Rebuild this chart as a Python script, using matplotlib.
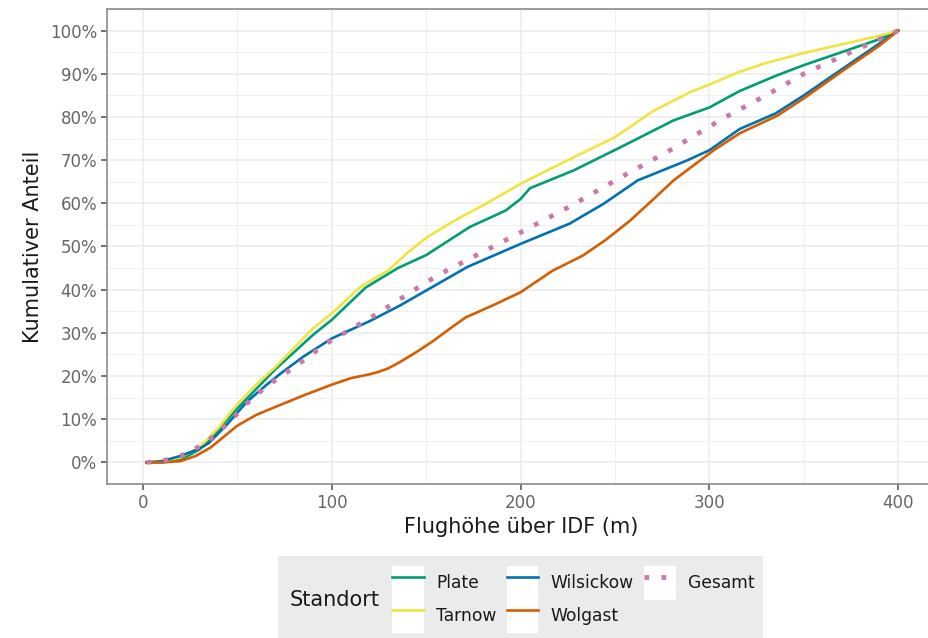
import numpy as np
import matplotlib
matplotlib.use("Agg")
import matplotlib.pyplot as plt
from matplotlib.patches import Rectangle
from matplotlib.legend_handler import HandlerLine2D
from matplotlib.ticker import PercentFormatter, MultipleLocator

# Kumulativer Anteil je Standort
plate_x = [2, 10, 20, 30, 40, 50, 60, 70, 80, 90, 100, 118, 135, 150, 173, 192, 200, 205,
           228, 253, 281, 300, 316, 335, 350, 370, 390, 400]
plate_y = [0, 0, 0.6, 3, 7.5, 12.5, 17, 21.5, 25.5, 29.5, 33, 40.5, 45, 48, 54.5, 58.3, 61,
           63.5, 67.6, 73, 79.2, 82.2, 86, 89.5, 92, 95, 98, 100]

tarnow_x = [2, 10, 20, 30, 40, 50, 60, 70, 80, 90, 100, 115, 130, 140, 150, 165, 180, 200,
            225, 250, 270, 290, 300, 315, 330, 350, 370, 390, 400]
tarnow_y = [0, 0.2, 1.2, 3.5, 8, 13.5, 18, 22, 26.5, 31, 34.5, 40.6, 44.5, 48.5, 52, 56, 59.5,
            64.5, 70, 75.3, 81.3, 85.8, 87.5, 90.3, 92.5, 94.8, 96.8, 98.8, 100]

wilsickow_x = [2, 10, 20, 30, 35, 45, 55, 65, 73, 85, 100, 120, 136, 150, 172, 200, 226, 244,
               262, 288, 300, 316, 335, 350, 370, 390, 400]
wilsickow_y = [0, 0.3, 1.5, 3.2, 4.5, 9, 14, 17.8, 20.6, 24.5, 28.7, 32.7, 36.3, 39.8, 45.3,
               50.6, 55.3, 59.9, 65.3, 69.9, 72.3, 77.2, 80.8, 85, 91, 97, 100]

wolgast_x = [2, 10, 20, 28, 36, 50, 60, 71, 85, 100, 110, 120, 125, 130, 136, 145, 154, 162,
             171, 185, 200, 217, 233, 245, 258, 270, 281, 302, 316, 336, 350, 370, 390, 400]
wolgast_y = [0, 0, 0.3, 1.5, 3.5, 8.5, 11, 13, 15.5, 18, 19.5, 20.4, 21, 21.8, 23.2, 25.6,
             28.2, 30.8, 33.6, 36.3, 39.4, 44.4, 47.9, 51.5, 56, 60.8, 65.3, 72.2, 76.2, 80.3,
             84.3, 90.5, 96.5, 100]

gesamt_x = [2, 10, 20, 33, 45, 55, 65, 80, 97, 124, 150, 159, 198, 225, 253, 280, 307, 330,
            350, 375, 400]
gesamt_y = [0, 0.3, 1.5, 4.4, 9, 13.6, 17.5, 22, 27.5, 34.4, 41.7, 44, 52.8, 59, 66, 72.5,
            79.6, 85, 90, 95, 100]

x_ticks = [0, 100, 200, 300, 400]
y_ticks = np.arange(0, 1.01, 0.1)


class KeyHandler(HandlerLine2D):
    # weisser Hintergrund hinter jedem Legendensymbol (wie ggplot)
    def create_artists(self, legend, orig_handle, xdescent, ydescent, width, height,
                       fontsize, trans):
        artists = super().create_artists(legend, orig_handle, xdescent, ydescent,
                                         width, height, fontsize, trans)
        bg = Rectangle((-xdescent, -ydescent), width, height, facecolor="white",
                       edgecolor="none", transform=trans)
        return [bg] + list(artists)


fig = plt.figure(figsize=(9.29, 6.38), dpi=100)
ax = fig.add_axes([107 / 929, 154 / 638, 829 / 929, 475 / 638])

lw = 1.9
ax.plot(plate_x, np.array(plate_y) / 100, color="#009E73", lw=lw, label="Plate")
ax.plot(tarnow_x, np.array(tarnow_y) / 100, color="#F0E442", lw=lw, label="Tarnow")
ax.plot(wilsickow_x, np.array(wilsickow_y) / 100, color="#0072B2", lw=lw, label="Wilsickow")
ax.plot(wolgast_x, np.array(wolgast_y) / 100, color="#D55E00", lw=lw, label="Wolgast")
ax.plot(gesamt_x, np.array(gesamt_y) / 100, color="#CC79A7", lw=3.4,
        linestyle=(0, (1, 2.6)), dash_capstyle="butt", label="Gesamt")

ax.set_xlim(-19, 420)
ax.set_ylim(-0.05, 1.05)
ax.set_xticks(x_ticks)
ax.set_yticks(y_ticks)
ax.xaxis.set_minor_locator(MultipleLocator(50))
ax.yaxis.set_minor_locator(MultipleLocator(0.05))
ax.yaxis.set_major_formatter(PercentFormatter(1.0, decimals=0))
ax.grid(True, which="major", color="#ebebeb", lw=1.1)
ax.grid(True, which="minor", color="#f0f0f0", lw=0.7)
ax.set_axisbelow(True)
ax.tick_params(which="major", length=4, width=1.1, color="#4d4d4d",
               labelcolor="#666666", labelsize=12, pad=3)
ax.tick_params(which="minor", length=0)
for s in ax.spines.values():
    s.set_color("#8c8c8c")
    s.set_linewidth(1.2)
ax.spines["right"].set_visible(False)  # Panelrand liegt ausserhalb des Bildes

ax.set_xlabel("Flughöhe über IDF (m)", fontsize=15, color="#1a1a1a", labelpad=4)
ax.set_ylabel("Kumulativer Anteil", fontsize=15, color="#1a1a1a", labelpad=5)

# Legende unten mit grauem Hintergrund
fig.patches.append(Rectangle((278 / 929, 0), 485 / 929, 82 / 638, facecolor="#ebebeb",
                             edgecolor="none", transform=fig.transFigure, zorder=0))
fig.text(290 / 929, 38 / 638, "Standort", fontsize=15, color="#1a1a1a",
         ha="left", va="center")
handles, labels = ax.get_legend_handles_labels()
leg = fig.legend(handles, labels, ncol=3, loc="center left",
                 bbox_to_anchor=(392 / 929, 38.5 / 638), frameon=False, fontsize=12.3,
                 handlelength=1.87, handleheight=2.6, labelspacing=0.0,
                 handletextpad=0.7, columnspacing=0.6, borderpad=0, borderaxespad=0,
                 handler_map={h: KeyHandler() for h in handles})
for t in leg.get_texts():
    t.set_color("#1a1a1a")

fig.savefig("out.png", dpi=100)
